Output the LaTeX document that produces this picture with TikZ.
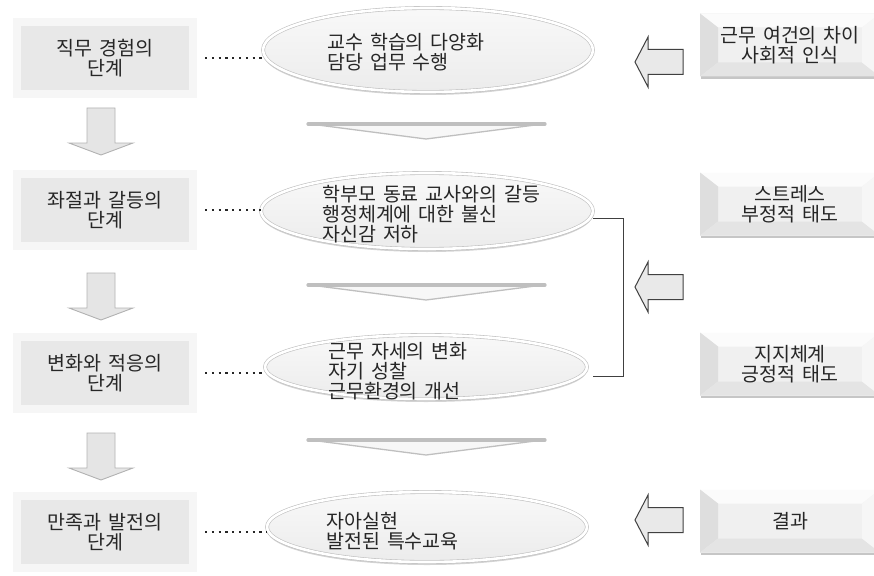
\documentclass[tikz,border=0pt]{standalone}
\usepackage{fontspec}
\setmainfont{Noto Sans CJK KR}[WordSpace=1.6]
\usetikzlibrary{shapes.geometric,shadows}

\begin{document}
\begin{tikzpicture}[
    x=1pt, y=-1pt,
    font=\fontsize{19.5}{20}\selectfont,
    every node/.style={text=black!85, align=center, inner sep=0pt},
    stage/.style={draw=gray!7, line width=8pt, fill=gray!18, minimum width=176pt, minimum height=72pt},
    idea/.style={ellipse, draw=gray!50, line width=0.6pt, double=white, double distance=2.6pt,
      top color=gray!5, bottom color=gray!15,
      drop shadow={shadow xshift=0pt, shadow yshift=-3pt, opacity=0.35}},
    ideatext/.style={anchor=west, align=left},
    cause/.style={minimum width=180pt, minimum height=63pt, fill=gray!12,
      drop shadow={shadow xshift=0.5pt, shadow yshift=-2.5pt, opacity=0.45},
      path picture={
        \fill[gray!3] (path picture bounding box.north west) -- (path picture bounding box.north east)
          -- ([shift={(-18pt,-14pt)}]path picture bounding box.north east)
          -- ([shift={(18pt,-14pt)}]path picture bounding box.north west) -- cycle;
        \fill[gray!26] (path picture bounding box.north west) -- ([shift={(18pt,-14pt)}]path picture bounding box.north west)
          -- ([shift={(18pt,14pt)}]path picture bounding box.south west) -- (path picture bounding box.south west) -- cycle;
        \fill[gray!21] (path picture bounding box.south west) -- ([shift={(18pt,14pt)}]path picture bounding box.south west)
          -- ([shift={(-18pt,14pt)}]path picture bounding box.south east) -- (path picture bounding box.south east) -- cycle;
        \fill[gray!7] (path picture bounding box.north east) -- ([shift={(-18pt,-14pt)}]path picture bounding box.north east)
          -- ([shift={(-18pt,14pt)}]path picture bounding box.south east) -- (path picture bounding box.south east) -- cycle;
      }},
    dots/.style={black!85, line width=2.2pt, dash pattern=on 2.2pt off 4.6pt},
    bracket/.style={black!75, line width=0.9pt},
    downarr/.style={fill=gray!20, draw=gray!60, line width=0.9pt},
    leftarr/.style={fill=gray!17, draw=black!75, line width=1pt},
    chevfill/.style={fill=gray!6, draw=gray!50, line width=1.3pt, line join=round},
    chevbar/.style={gray!50, line width=3.2pt, line cap=round},
  ]
    \useasboundingbox (0,0) rectangle (874,575);

    % stages on the left
    \node[stage] (s1) at (105,58)  {직무 경험의\\단계};
    \node[stage] (s2) at (105,210) {좌절과 갈등의\\단계};
    \node[stage] (s3) at (105,373) {변화와 적응의\\단계};
    \node[stage] (s4) at (105,532) {만족과 발전의\\단계};

    \foreach \t in {108,273,433}
      \draw[downarr] (87,\t) -- (115,\t) -- (115,\t+35) -- (133,\t+35) -- (101,\t+47) -- (69,\t+35) -- (87,\t+35) -- cycle;

    % ellipses in the middle
    \node[idea, minimum width=330pt, minimum height=84pt] (e1) at (428,50)  {};
    \node[idea, minimum width=332pt, minimum height=76pt] (e2) at (427,211) {};
    \node[idea, minimum width=322pt, minimum height=64pt] (e3) at (426,367) {};
    \node[idea, minimum width=320pt, minimum height=70pt] (e4) at (427,527) {};

    \node[ideatext] (t1) at (327,52)  {교수 학습의 다양화\\담당 업무 수행};
    \node[ideatext] (t2) at (322,214) {학부모 동료 교사와의 갈등\\행정체계에 대한 불신\\자신감 저하};
    \node[ideatext] (t3) at (328,371) {근무 자세의 변화\\자기 성찰\\근무환경의 개선};
    \node[ideatext] (t4) at (326,531) {자아실현\\발전된 특수교육};

    \foreach \t in {124,285,440} {
      \draw[chevfill] (310,\t) -- (426,\t+15) -- (543,\t) -- cycle;
      \draw[chevbar] (308,\t) -- (545,\t);
    }

    \draw[dots] ([xshift=8pt]s1.east) -- (e1.west |- s1.east);
    \draw[dots] ([xshift=8pt]s2.east) -- (e2.west |- s2.east);
    \draw[dots] ([xshift=8pt]s3.east) -- (e3.west |- s3.east);
    \draw[dots] ([xshift=8pt]s4.east) -- (e4.west |- s4.east);

    \draw[bracket] ([yshift=-7pt]e2.east) -- ++(30,0) |- ([shift={(6pt,-9pt)}]e3.east);

    % conditions on the right
    \node[cause] (r1) at (790,45)  {근무 여건의 차이\\사회적 인식};
    \node[cause] (r2) at (790,204) {스트레스\\부정적 태도};
    \node[cause] (r3) at (790,364) {지지체계\\긍정적 태도};
    \node[cause] (r4) at (790,521) {결과};

    \foreach \c in {62,287,520}
      \draw[leftarr] (683,\c-12.5) -- (648,\c-12.5) -- (648,\c-25) -- (635,\c) -- (648,\c+25) -- (648,\c+12.5) -- (683,\c+12.5) -- cycle;
  \end{tikzpicture}
\end{document}
